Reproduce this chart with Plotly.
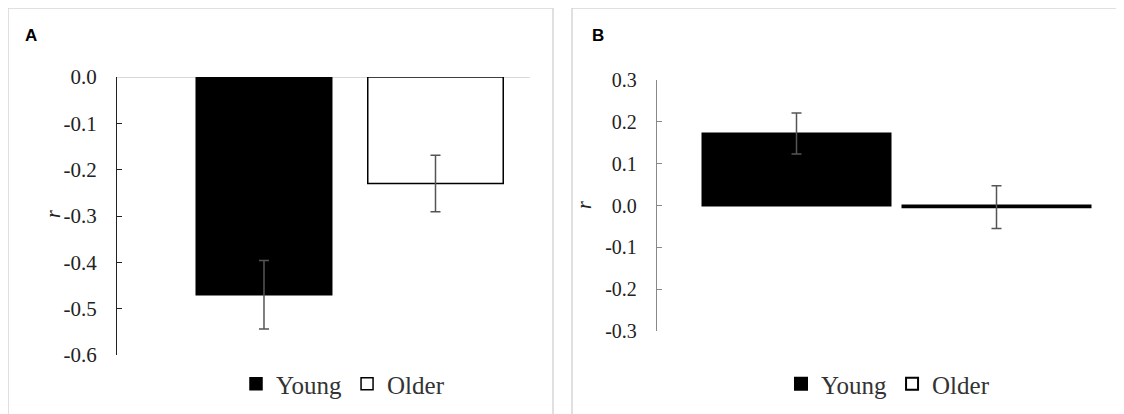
import plotly.graph_objects as go

groups = ["Young", "Older"]
# Panel A
a_values = [-0.47, -0.23]
a_errors = [0.074, 0.061]
a_tickvals = [0.0, -0.1, -0.2, -0.3, -0.4, -0.5, -0.6]
a_ticktext = ["0.0", "-0.1", "-0.2", "-0.3", "-0.4", "-0.5", "-0.6"]
# Panel B
b_values = [0.172, -0.004]
b_errors = [0.049, 0.051]
b_tickvals = [0.3, 0.2, 0.1, 0.0, -0.1, -0.2, -0.3]
b_ticktext = ["0.3", "0.2", "0.1", "0.0", "-0.1", "-0.2", "-0.3"]

fills = ["#000000", "#ffffff"]
serif = "Liberation Serif"

fig = go.Figure()

for i, g in enumerate(groups):
    fig.add_trace(go.Bar(
        x=[i], y=[a_values[i]], name=g, width=0.79,
        marker=dict(color=fills[i], line=dict(color="#000000", width=1.5)),
        error_y=dict(type="data", array=[a_errors[i]], color="#555555", thickness=1.5, width=5),
        xaxis="x", yaxis="y", legend="legend",
    ))
for i, g in enumerate(groups):
    fig.add_trace(go.Bar(
        x=[i], y=[b_values[i]], name=g, width=0.94,
        marker=dict(color=fills[i], line=dict(color="#000000", width=2)),
        error_y=dict(type="data", array=[b_errors[i]], color="#555555", thickness=1.5, width=5),
        xaxis="x2", yaxis="y2", legend="legend2",
    ))

W, H = 1124, 414
OFF = 8  # page body margin
def px(v): return (v - OFF) / W
def py(v): return (H - (v - OFF)) / H

fig.update_layout(
    width=W, height=H,
    margin=dict(l=0, r=0, t=0, b=0, autoexpand=False),
    paper_bgcolor="white", plot_bgcolor="white",
    barmode="overlay",
    showlegend=True,
    xaxis=dict(domain=[px(117), px(530)], range=[-0.857, 1.551], visible=False),
    yaxis=dict(domain=[py(355), py(77)], range=[-0.6, 0], anchor="x",
               tickvals=a_tickvals, ticktext=a_ticktext,
               ticks="inside", ticklen=5, tickwidth=1.3, tickcolor="#222222",
               showline=True, linecolor="#222222", linewidth=1.3,
               showgrid=False, zeroline=True, zerolinecolor="#d9d9d9", zerolinewidth=1,
               tickfont=dict(family=serif, size=21, color="#222222"),
               ticklabelstandoff=15),
    xaxis2=dict(domain=[px(657), px(1100)], range=[-0.6975, 1.5175], visible=False, anchor="y2"),
    yaxis2=dict(domain=[py(331), py(80)], range=[-0.3, 0.3], anchor="x2",
                tickvals=b_tickvals, ticktext=b_ticktext,
                ticks="inside", ticklen=5, tickwidth=1.3, tickcolor="#888888",
                showline=True, linecolor="#888888", linewidth=1.3,
                showgrid=False, zeroline=False,
                tickfont=dict(family=serif, size=20, color="#222222"),
                ticklabelstandoff=15),
    legend=dict(orientation="h", x=px(236), y=py(384), xanchor="left", yanchor="middle",
                font=dict(family=serif, size=25, color="#333333"), bgcolor="rgba(0,0,0,0)",
                traceorder="normal"),
    legend2=dict(orientation="h", x=px(781), y=py(384), xanchor="left", yanchor="middle",
                 font=dict(family=serif, size=25, color="#333333"), bgcolor="rgba(0,0,0,0)",
                 traceorder="normal"),
    shapes=[
        dict(type="rect", xref="paper", yref="paper", x0=px(8), x1=px(553), y0=-0.05, y1=py(8),
             line=dict(color="#d6d6d6", width=1.5), fillcolor="rgba(0,0,0,0)", layer="below"),
        dict(type="rect", xref="paper", yref="paper", x0=px(572), x1=px(1118), y0=-0.05, y1=py(8),
             line=dict(color="#d6d6d6", width=1.5), fillcolor="rgba(0,0,0,0)", layer="below"),
    ],
    annotations=[
        dict(text="<b>A</b>", x=px(23), y=py(36), xref="paper", yref="paper", xanchor="left",
             yanchor="middle", showarrow=False, font=dict(family="Liberation Sans", size=17, color="#000")),
        dict(text="<b>B</b>", x=px(590), y=py(36), xref="paper", yref="paper", xanchor="left",
             yanchor="middle", showarrow=False, font=dict(family="Liberation Sans", size=17, color="#000")),
        dict(text="<i>r</i>", x=px(40), y=py(214), xref="paper", yref="paper", textangle=-90,
             showarrow=False, font=dict(family=serif, size=20, color="#222")),
        dict(text="<i>r</i>", x=px(584), y=py(205), xref="paper", yref="paper", textangle=-90,
             showarrow=False, font=dict(family=serif, size=20, color="#222")),
    ],
)

fig.write_html("out.html")
